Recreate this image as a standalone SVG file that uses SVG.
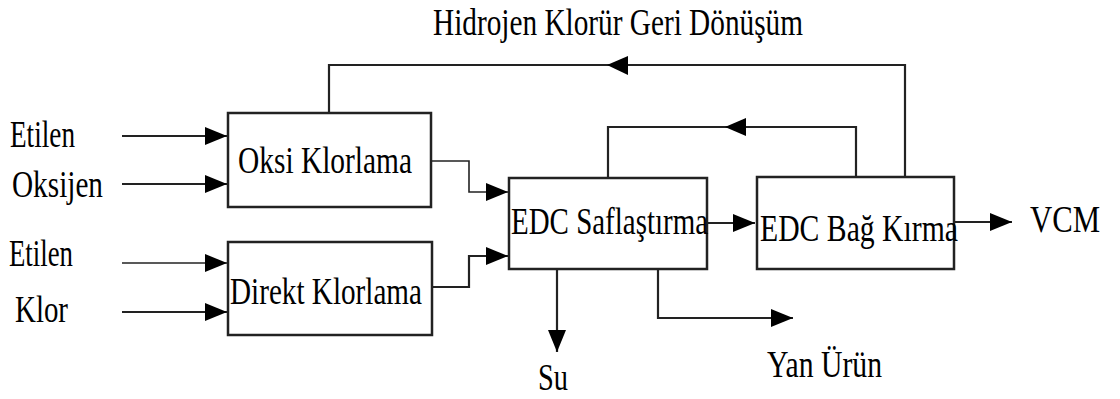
<svg xmlns="http://www.w3.org/2000/svg" width="1120" height="399" viewBox="0 0 1120 399">
<style>
text{font-family:"Liberation Serif","Times New Roman",serif;font-size:38px;fill:#000}
.box{fill:#fff;stroke:#222;stroke-width:2.5}
.ln{fill:none;stroke:#222;stroke-width:2.2}
.thin{stroke-width:1.6}
</style>
<defs>
<marker id="ah" markerWidth="22" markerHeight="18" refX="22" refY="9" orient="auto" markerUnits="userSpaceOnUse">
<path d="M0,0 L22,9 L0,18 Z" fill="#000"/>
</marker>
</defs>
<rect width="1120" height="399" fill="#fff"/>
<g id="connectors">
<line class="ln" x1="122" y1="136" x2="227" y2="136" marker-end="url(#ah)"/>
<line class="ln" x1="122" y1="184" x2="227" y2="184" marker-end="url(#ah)"/>
<line class="ln thin" x1="122" y1="263" x2="227" y2="263" marker-end="url(#ah)"/>
<line class="ln" x1="122" y1="312" x2="227" y2="312" marker-end="url(#ah)"/>
<polyline class="ln thin" points="432,161 469,161 469,192 508,192" marker-end="url(#ah)"/>
<polyline class="ln" points="432,287 469,287 469,256 508,256" marker-end="url(#ah)"/>
<line class="ln" x1="707" y1="223" x2="755" y2="223" marker-end="url(#ah)"/>
<line class="ln" x1="954" y1="222" x2="1012" y2="222" marker-end="url(#ah)"/>
<polyline class="ln" points="856,177 856,127 608,127 608,178"/>
<path d="M725,127 L746,118 L746,136 Z" fill="#000"/>
<polyline class="ln" points="905,177 905,65 329,65 329,113"/>
<path d="M607,65 L628,56 L628,75 Z" fill="#000"/>
<line class="ln" x1="557" y1="269" x2="557" y2="352" marker-end="url(#ah)"/>
<polyline class="ln" points="658,269 658,318 793,318" marker-end="url(#ah)"/>
</g>
<g id="oksi-klorlama">
<rect class="box" x="228" y="113" width="203" height="94"/>
<text x="238" y="173" textLength="174" lengthAdjust="spacingAndGlyphs">Oksi Klorlama</text>
</g>
<g id="direkt-klorlama">
<rect class="box" x="228" y="242" width="204" height="93"/>
<text x="230" y="304" textLength="192" lengthAdjust="spacingAndGlyphs">Direkt Klorlama</text>
</g>
<g id="edc-saflastirma">
<rect class="box" x="509" y="178" width="198" height="91"/>
<text x="511" y="234" textLength="197" lengthAdjust="spacingAndGlyphs">EDC Saflaştırma</text>
</g>
<g id="edc-bag-kirma">
<rect class="box" x="757" y="177" width="197" height="92"/>
<text x="760" y="241" textLength="198" lengthAdjust="spacingAndGlyphs">EDC Bağ Kırma</text>
</g>
<g id="labels">
<text x="433" y="35" textLength="370" lengthAdjust="spacingAndGlyphs">Hidrojen Klorür Geri Dönüşüm</text>
<text x="10" y="147" textLength="65" lengthAdjust="spacingAndGlyphs">Etilen</text>
<text x="12" y="197" textLength="91" lengthAdjust="spacingAndGlyphs">Oksijen</text>
<text x="9" y="266" textLength="64" lengthAdjust="spacingAndGlyphs">Etilen</text>
<text x="15" y="322" textLength="53" lengthAdjust="spacingAndGlyphs">Klor</text>
<text x="1030" y="232" textLength="70" lengthAdjust="spacingAndGlyphs">VCM</text>
<text x="538" y="390" textLength="30" lengthAdjust="spacingAndGlyphs">Su</text>
<text x="767" y="377" textLength="115" lengthAdjust="spacingAndGlyphs">Yan Ürün</text>
</g>
</svg>
